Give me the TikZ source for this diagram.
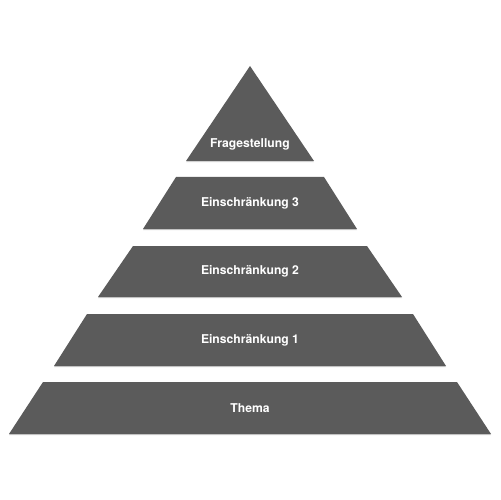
\documentclass[tikz,border=0pt]{standalone}
\usepackage{fontspec}
\setmainfont{TeX Gyre Heros}
\usetikzlibrary{shadows}
\definecolor{blockgray}{HTML}{5B5B5B}
\tikzset{
    block/.style={
        fill=blockgray,
        drop shadow={shadow xshift=0bp, shadow yshift=-1.2bp, fill=black, opacity=0.18}
    },
    caption/.style={text=white, font=\bfseries\fontsize{12.2}{14}\selectfont}
}
% name, top y, bottom y, top half width, bottom half width, label
\newcommand{\pyrLayer}[6] {
	\path[block] (250-#4,#2) -- (250+#4,#2) -- (250+#5,#3) -- (250-#5,#3) -- cycle;
	\node[caption] (#1) at (250,{(#2+#3)/2}) {#6};
}

\begin{document}
\begin{tikzpicture}[x=1bp,y=-1bp]
		\useasboundingbox (0,0) rectangle (500,500);

		% Top of the pyramid
		\path[block] (250,66) -- (314,161) -- (186,161) -- cycle;
		\node[caption] (frage) at (250,144) {Fragestellung};

		% Layers below
		\pyrLayer{eins3}{177}{229}{74}{107}{Einschränkung 3}
		\pyrLayer{eins2}{246}{297}{117}{152}{Einschränkung 2}
		\pyrLayer{eins1}{314}{366}{163}{196}{Einschränkung 1}
		\pyrLayer{thema}{382}{434}{207}{241}{Thema}

\end{tikzpicture}
\end{document}
